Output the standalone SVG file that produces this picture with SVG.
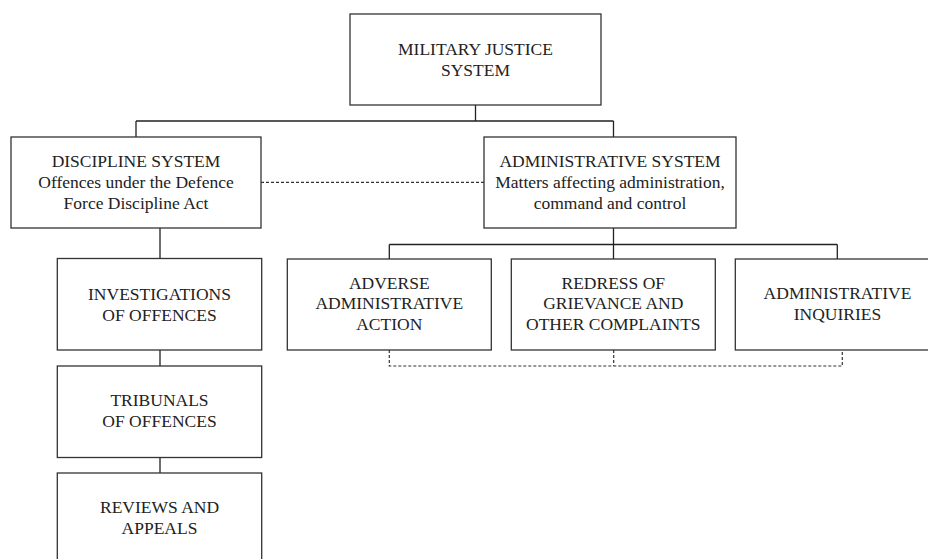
<svg xmlns="http://www.w3.org/2000/svg" width="928" height="559" viewBox="0 0 928 559">
<style>
.box{fill:#fff;stroke:#333;stroke-width:1.3}
.ln{fill:none;stroke:#222;stroke-width:1.3}
.dash{fill:none;stroke:#333;stroke-width:1.2;stroke-dasharray:3 2}
text{font-family:"Liberation Serif","Times New Roman",serif;font-size:17.5px;fill:#222;text-anchor:middle}
</style>
<rect width="928" height="559" fill="#fff"/>
<g id="connectors">
<path class="ln" d="M475.5 105V121M136 121H613.5M136 121V137M613.5 121V137"/>
<path class="ln" d="M160 228V258.5M160 350V366M160 457.5V473"/>
<path class="ln" d="M613.5 228V244.5M389.3 244.5H837.3M389.3 244.5V259M613.5 244.5V259M837.3 244.5V259"/>
<path class="dash" d="M261 182.3H484"/>
<path class="dash" d="M389.3 350V366H842.3V350M613.7 350V366"/>
</g>
<g id="military-justice">
<rect class="box" x="350" y="14" width="251" height="91"/>
<text x="475.5" y="54.5">MILITARY JUSTICE</text>
<text x="475.5" y="75.5">SYSTEM</text>
</g>
<g id="discipline">
<rect class="box" x="11" y="137" width="250" height="91"/>
<text x="136" y="166.5">DISCIPLINE SYSTEM</text>
<text x="136" y="187.5">Offences under the Defence</text>
<text x="136" y="208.5">Force Discipline Act</text>
</g>
<g id="administrative">
<rect class="box" x="484" y="137" width="252" height="91"/>
<text x="610" y="166.5">ADMINISTRATIVE SYSTEM</text>
<text x="610" y="187.5">Matters affecting administration,</text>
<text x="610" y="208.5">command and control</text>
</g>
<g id="investigations">
<rect class="box" x="57.3" y="258.5" width="204.4" height="91.5"/>
<text x="159.5" y="299.5">INVESTIGATIONS</text>
<text x="159.5" y="320.5">OF OFFENCES</text>
</g>
<g id="tribunals">
<rect class="box" x="57.3" y="366" width="204.4" height="91.5"/>
<text x="159.5" y="406">TRIBUNALS</text>
<text x="159.5" y="427">OF OFFENCES</text>
</g>
<g id="reviews">
<rect class="box" x="57.3" y="473" width="204.4" height="92"/>
<text x="159.5" y="512.5">REVIEWS AND</text>
<text x="159.5" y="533.5">APPEALS</text>
</g>
<g id="adverse">
<rect class="box" x="287.3" y="259" width="204" height="91"/>
<text x="389.3" y="288.5">ADVERSE</text>
<text x="389.3" y="309">ADMINISTRATIVE</text>
<text x="389.3" y="329.5">ACTION</text>
</g>
<g id="redress">
<rect class="box" x="511.3" y="259" width="204" height="91"/>
<text x="613.3" y="288.5">REDRESS OF</text>
<text x="613.3" y="309">GRIEVANCE AND</text>
<text x="613.3" y="329.5">OTHER COMPLAINTS</text>
</g>
<g id="inquiries">
<rect class="box" x="735.3" y="259" width="204" height="91"/>
<text x="837.5" y="299">ADMINISTRATIVE</text>
<text x="837.5" y="320">INQUIRIES</text>
</g>
</svg>
